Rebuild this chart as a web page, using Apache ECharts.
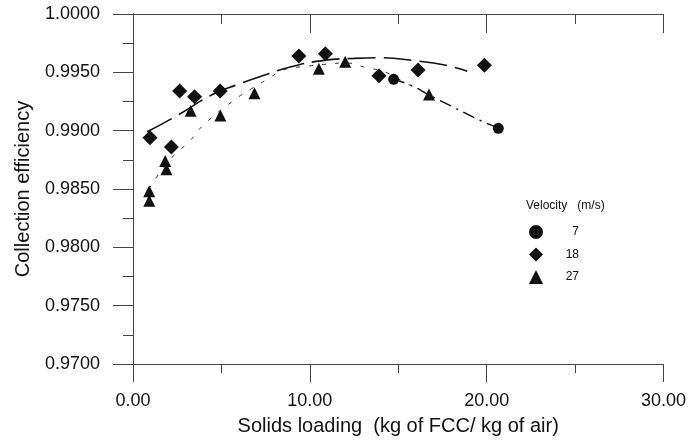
<!DOCTYPE html>
<html>
<head>
<meta charset="utf-8">
<script src="https://cdn.jsdelivr.net/npm/echarts@6/dist/echarts.min.js"></script>
<style>
html,body{margin:0;padding:0;background:#fff;}
#chart{width:689px;height:441px;}
</style>
</head>
<body>
<div id="chart"></div>
<script>
// Measured points [solids loading, collection efficiency]
var vel7Points = [[14.74, 0.9944], [20.66, 0.9902]];
var vel18Points = [[0.96, 0.9894], [2.17, 0.9886], [2.64, 0.9934], [3.48, 0.9929], [4.93, 0.9934],
  [9.38, 0.9964], [10.88, 0.9966], [13.91, 0.9947], [16.12, 0.9952], [19.87, 0.9956]];
var vel27Points = [[0.92, 0.9848], [0.92, 0.9840], [1.82, 0.9874], [1.89, 0.9867], [3.26, 0.9917],
  [4.94, 0.9913], [6.87, 0.9932], [10.51, 0.9953], [12.0, 0.9959], [16.74, 0.9931]];
// Fitted curves
var vel7Fit = [[14.7, 0.9944], [15.7, 0.9939], [16.7, 0.9931], [18.0, 0.9921], [18.8, 0.9915], [19.6, 0.9909], [20.7, 0.9902]];
var vel18Fit = [[0.8, 0.9899], [2.5, 0.9913], [4.5, 0.9931], [6.0, 0.9940], [7.5, 0.9948], [9.0, 0.9955],
  [10.7, 0.9960], [12.5, 0.9962], [14.0, 0.99625], [15.9, 0.9960], [17.7, 0.9956], [18.9, 0.9951]];
var vel27Fit = [[0.9, 0.9850], [1.8, 0.9870], [2.4, 0.9880], [3.2, 0.9891], [4.0, 0.9905], [5.7, 0.9926],
  [6.7, 0.9936], [7.6, 0.9944], [8.5, 0.9952], [9.7, 0.9955], [11.0, 0.9957], [12.0, 0.9958],
  [13.2, 0.9954], [14.3, 0.9950], [15.4, 0.9941], [16.7, 0.9931]];
var legendNames = ['7', '18', '27'];
var legendTitle = 'Velocity   (m/s)';
var xName = 'Solids loading  (kg of FCC/ kg of air)';
var yName = 'Collection efficiency';

var FONT = '"Liberation Sans", Arial, sans-serif';
var INK = '#111';
var AX = '#444';

var chart = echarts.init(document.getElementById('chart'));
var axisLine = {show: true, lineStyle: {color: AX, width: 1}};
chart.setOption({
  animation: false,
  backgroundColor: '#fff',
  grid: {left: 133, right: 22, top: 14, bottom: 71},
  xAxis: [{
    type: 'value', min: 0, max: 30, interval: 10, position: 'bottom',
    axisLine: axisLine,
    axisTick: {show: true, length: 18, lineStyle: {color: AX}},
    minorTick: {show: true, splitNumber: 2, length: 9, lineStyle: {color: AX}},
    splitLine: {show: false},
    axisLabel: {margin: 28, fontSize: 18, color: INK, fontFamily: FONT,
      formatter: function (v) { return v.toFixed(2); }},
    name: xName, nameLocation: 'middle', nameGap: 52,
    nameTextStyle: {fontSize: 20, color: INK, fontFamily: FONT}
  }, {
    type: 'value', min: 0, max: 30, interval: 10, position: 'top',
    axisLine: axisLine,
    axisTick: {show: true, inside: true, length: 19, lineStyle: {color: AX}},
    minorTick: {show: true, splitNumber: 2, length: 10, lineStyle: {color: AX}},
    splitLine: {show: false}, axisLabel: {show: false}
  }],
  yAxis: [{
    type: 'value', min: 0.97, max: 1.0, interval: 0.005, position: 'left',
    axisLine: axisLine,
    axisTick: {show: true, length: 20, lineStyle: {color: AX}},
    minorTick: {show: true, splitNumber: 2, length: 8, lineStyle: {color: AX}},
    splitLine: {show: false},
    axisLabel: {margin: 33, fontSize: 18, color: INK, fontFamily: FONT,
      formatter: function (v) { return v.toFixed(4); }},
    name: yName, nameLocation: 'middle', nameGap: 100,
    nameTextStyle: {fontSize: 20, color: INK, fontFamily: FONT}
  }, {
    type: 'value', min: 0.97, max: 1.0, interval: 0.005, position: 'right',
    axisLine: axisLine,
    axisTick: {show: true, inside: true, length: 19, lineStyle: {color: AX}},
    minorTick: {show: true, splitNumber: 2, length: 10, lineStyle: {color: AX}},
    splitLine: {show: false}, axisLabel: {show: false}
  }],
  legend: {
    data: legendNames, orient: 'vertical', left: 529, top: 225, padding: 0,
    itemWidth: 14, itemHeight: 14, itemGap: 8.5,
    formatter: function (n) { return '{v|' + n + '}'; },
    textStyle: {fontSize: 12, color: INK, fontFamily: FONT,
      rich: {v: {width: 31, align: 'right', fontSize: 12, color: INK, fontFamily: FONT}}}
  },
  graphic: [{
    type: 'text', left: 526, top: 200,
    style: {text: legendTitle, fontSize: 12, fill: INK, fontFamily: FONT}
  }],
  series: [
    {name: 'fit7', type: 'line', data: vel7Fit, smooth: true, showSymbol: false, silent: true,
      lineStyle: {color: INK, width: 1.5, type: [12, 6, 2, 6]}, z: 1},
    {name: 'fit18', type: 'line', data: vel18Fit, smooth: true, showSymbol: false, silent: true,
      lineStyle: {color: INK, width: 1.6, type: [28, 8]}, z: 1},
    {name: 'fit27', type: 'line', data: vel27Fit, smooth: true, showSymbol: false, silent: true,
      lineStyle: {color: '#333', width: 1, type: [4, 9]}, z: 1},
    {name: '7', type: 'scatter', data: vel7Points, symbol: 'circle', symbolSize: 11,
      itemStyle: {color: INK, opacity: 1}, z: 3},
    {name: '18', type: 'scatter', data: vel18Points, symbol: 'diamond', symbolSize: 15,
      itemStyle: {color: INK, opacity: 1}, z: 3},
    {name: '27', type: 'scatter', data: vel27Points, symbol: 'triangle', symbolSize: 12,
      itemStyle: {color: INK, opacity: 1}, z: 3}
  ]
});
</script>
</body>
</html>
